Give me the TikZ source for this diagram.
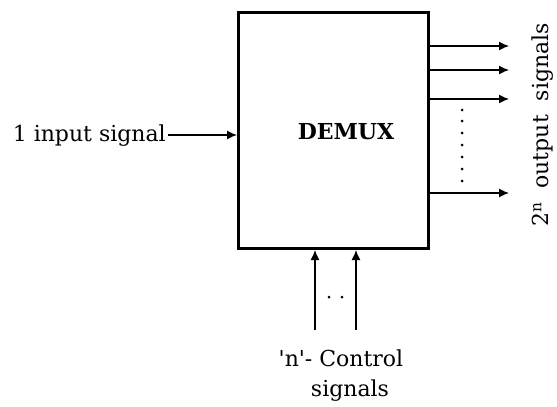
\documentclass[tikz,border=0pt]{standalone}
\usepackage{fontspec}
\setmainfont{DejaVu Serif}
\usetikzlibrary{arrows.meta}
\begin{document}
\begin{tikzpicture}[x=1pt,y=-1pt,
  sig/.style={line width=1.3pt,-{Latex[length=10pt,width=9pt]}},
  lbl/.style={font=\fontsize{22}{24}\selectfont,inner sep=0pt},
  dotc/.style={fill=black,inner sep=0pt,minimum size=3pt,circle}]
\useasboundingbox (0,0) rectangle (557,407);
\node[draw,line width=3pt,minimum width=190pt,minimum height=236pt,inner sep=0pt] (box) at (333,130) {};
\node[font=\bfseries\fontsize{22}{24}\selectfont] (dm) at (346,132) {DEMUX};
% input
\node[lbl,anchor=east] (in) at (166,136) {1 input signal};
\coordinate (inend) at (237,135);
\draw[sig] (168,135) coordinate (ins) -- (inend);
% outputs
\foreach \y/\n in {46/a,70/b,99/c,193/d}{
  \coordinate (o\n s) at (428,\y);
  \coordinate (o\n e) at (509,\y);
  \draw[sig] (o\n s) -- (o\n e);
}
\foreach \y in {110,121,133,145,157,169,181}{
  \node[dotc] at (462,\y) {};
}
\node[lbl,rotate=90] (out) at (543,125) {2\textsuperscript{n}\ \ output\ \ signals};
% controls
\coordinate (c1s) at (315,330); \coordinate (c1e) at (315,250);
\coordinate (c2s) at (356,330); \coordinate (c2e) at (356,250);
\draw[sig] (c1s) -- (c1e);
\draw[sig] (c2s) -- (c2e);
\node[dotc] at (329,297) {};
\node[dotc] at (342,297) {};
\node[lbl] (ctl) at (341,358) {\textquotesingle n\textquotesingle - Control};
\node[lbl] (sg) at (350,391) {signals};
\end{tikzpicture}
\end{document}
